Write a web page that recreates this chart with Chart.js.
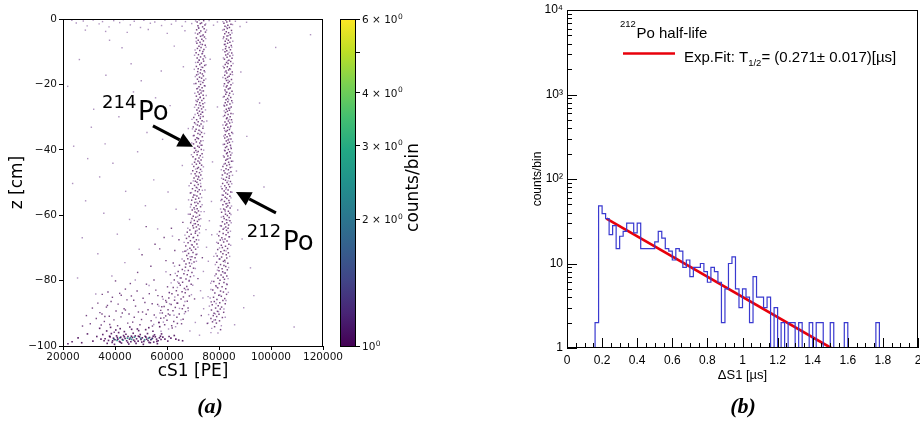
<!DOCTYPE html>
<html><head><meta charset="utf-8">
<script src="https://cdn.jsdelivr.net/npm/chart.js@4/dist/chart.umd.min.js"></script>
<style>
html,body{margin:0;padding:0;background:#fff;width:920px;height:429px;overflow:hidden;}
canvas{position:absolute;top:0;}
#cL{left:0}#cC{left:330px}#cR{left:470px}
.cap{position:absolute;top:393px;font:italic bold 22px "Liberation Serif",serif;width:60px;text-align:center;color:#000}
</style></head><body>
<canvas id="cL" width="345" height="429"></canvas>
<canvas id="cC" width="110" height="429"></canvas>
<canvas id="cR" width="450" height="429"></canvas>
<div class="cap" style="left:180px">(a)</div>
<div class="cap" style="left:713px">(b)</div>
<script>
// ---------------- Panel (a) data: [cS1 in kPE, z in cm] ----------------
const po214Band = [
[72.4,-0.2],[74.1,-0.5],[71.6,-0.9],[73.3,-1.2],[72.8,-1.4],[74.6,-1.8],[71.9,-2.1],[73.7,-2.4],[72.2,-2.8],[74.3,-3.0],[71.4,-3.3],[73.0,-3.7],[74.8,-4.0],[72.5,-4.2],[71.8,-4.6],[73.9,-4.9],[72.9,-5.3],[74.4,-5.5],[71.3,-5.8],[73.4,-6.2],[72.0,-6.5],[74.0,-6.7],[72.7,-7.1],[71.5,-7.4],[73.6,-7.8],[74.7,-8.0],[72.3,-8.3],[73.1,-8.7],[71.7,-9.0],[74.2,-9.3],[72.6,-9.6],[73.8,-9.9],
[71.2,-10.3],[73.5,-10.6],[72.1,-10.9],[74.4,-11.3],[72.9,-11.6],[71.6,-11.9],[73.9,-12.2],[72.4,-12.6],[74.1,-12.9],[71.9,-13.2],[73.2,-13.5],[72.6,-13.9],[74.5,-14.2],[71.3,-14.5],[73.7,-14.8],[72.0,-15.2],[73.0,-15.5],[74.3,-15.8],[71.8,-16.1],[72.8,-16.5],[73.6,-16.8],[71.4,-17.1],[74.0,-17.4],[72.5,-17.8],[73.3,-18.1],[71.7,-18.4],[74.2,-18.7],[72.2,-19.1],[73.8,-19.4],[71.1,-19.7],[72.9,-20.0],[74.4,-20.4],[72.3,-20.7],[73.5,-21.0],[71.5,-21.3],[72.7,-21.7],[74.0,-22.0],[71.9,-22.3],[73.1,-22.6],[72.4,-23.0],[73.9,-23.3],[71.3,-23.6],[72.8,-23.9],[74.1,-24.3],[72.0,-24.6],[73.4,-24.9],[71.6,-25.2],[72.6,-25.6],[73.8,-25.9],[71.2,-26.2],[72.9,-26.5],[74.0,-26.9],[72.1,-27.2],[73.3,-27.5],[71.5,-27.8],[72.5,-28.2],[73.7,-28.5],[71.8,-28.8],[73.0,-29.1],[72.2,-29.5],[73.9,-29.8],
[70.3,-30.1],[72.8,-30.4],[71.4,-30.8],[73.5,-31.1],[72.0,-31.4],[70.6,-31.7],[73.1,-32.1],[71.7,-32.4],[72.5,-32.7],[70.1,-33.0],[73.8,-33.4],[71.2,-33.7],[72.3,-34.0],[70.8,-34.3],[73.3,-34.7],[71.9,-35.0],[72.7,-35.3],[70.4,-35.6],[73.6,-36.0],[71.5,-36.3],[72.1,-36.6],[70.9,-36.9],[73.0,-37.3],[71.3,-37.6],[72.6,-37.9],[70.2,-38.2],[73.4,-38.6],[71.8,-38.9],[72.4,-39.2],[70.7,-39.5],[73.2,-39.9],[71.1,-40.2],[72.0,-40.5],[70.5,-40.8],[73.5,-41.2],[71.6,-41.5],[72.8,-41.8],[70.0,-42.1],[72.3,-42.5],[71.0,-42.8],[73.1,-43.1],[71.9,-43.4],[70.6,-43.8],[72.6,-44.1],[71.3,-44.4],[73.3,-44.7],[70.3,-45.1],[72.1,-45.4],[71.7,-45.7],[72.9,-46.0],[69.9,-46.4],[71.4,-46.7],[72.5,-47.0],[70.8,-47.3],[73.0,-47.7],[71.2,-48.0],[72.2,-48.3],[70.4,-48.6],[71.8,-49.0],[72.7,-49.3],[70.9,-49.6],[71.5,-49.9],
[69.2,-50.2],[72.0,-50.6],[70.6,-50.9],[73.0,-51.2],[71.3,-51.5],[69.8,-51.9],[72.4,-52.2],[70.9,-52.5],[71.8,-52.8],[69.0,-53.2],[72.8,-53.5],[70.3,-53.8],[71.5,-54.1],[70.0,-54.5],[72.2,-54.8],[71.0,-55.1],[69.5,-55.4],[72.6,-55.8],[70.7,-56.1],[71.9,-56.4],[69.3,-56.7],[71.2,-57.1],[72.9,-57.4],[70.4,-57.7],[71.6,-58.0],[69.7,-58.4],[72.1,-58.7],[70.8,-59.0],[71.4,-59.3],[68.9,-59.7],[72.5,-60.0],[70.1,-60.3],[71.1,-60.6],[69.6,-61.0],[72.3,-61.3],[70.5,-61.6],[71.7,-61.9],[69.1,-62.3],[70.9,-62.6],[72.0,-62.9],[69.9,-63.2],[71.3,-63.6],[70.2,-63.9],[72.4,-64.2],[68.8,-64.5],[71.0,-64.9],
[67.8,-65.2],[70.9,-65.5],[69.3,-65.8],[71.8,-66.2],[68.5,-66.5],[70.2,-66.8],[67.5,-67.1],[71.3,-67.5],[69.0,-67.8],[70.6,-68.1],[68.1,-68.4],[71.5,-68.8],[69.7,-69.1],[67.2,-69.4],[70.3,-69.7],[68.8,-70.1],[71.0,-70.4],[69.4,-70.7],[66.9,-71.0],[70.0,-71.4],[68.3,-71.7],[71.2,-72.0],[67.6,-72.3],[69.6,-72.7],[70.8,-73.0],[68.0,-73.3],[69.1,-73.6],[66.6,-74.0],[70.4,-74.3],[68.6,-74.6],[67.3,-74.9],
[64.8,-75.3],[68.9,-75.6],[67.1,-75.9],[70.2,-76.2],[65.9,-76.6],[68.2,-76.9],[64.3,-77.2],[69.6,-77.5],[66.5,-77.9],[67.8,-78.2],[63.9,-78.5],[69.0,-78.8],[65.4,-79.2],[67.3,-79.5],[62.8,-79.8],[68.5,-80.1],[66.0,-80.5],[64.6,-80.8],[69.3,-81.1],[65.1,-81.4],[67.6,-81.8],[62.4,-82.1],[66.7,-82.4],[68.1,-82.7],[63.6,-83.1],[65.8,-83.4],[67.0,-83.7],[61.9,-84.0],[64.2,-84.4],[68.6,-84.7],[66.3,-85.0],
[60.7,-85.3],[65.4,-85.6],[62.9,-86.0],[67.8,-86.3],[59.8,-86.6],[64.1,-86.9],[61.6,-87.3],[66.5,-87.6],[58.9,-87.9],[63.2,-88.2],[65.9,-88.6],[60.4,-88.9],[62.3,-89.2],[67.1,-89.5],[58.2,-89.9],[64.7,-90.2],[61.1,-90.5],[59.5,-90.8],[63.8,-91.2],[57.6,-91.5],[66.2,-91.8],[60.0,-92.1],[62.6,-92.5],[56.9,-92.8],[64.0,-93.1],[59.1,-93.5],[61.8,-93.8]
];
const po214Outer = [
[71.0,-0.6],[74.9,-1.5],[72.1,-2.6],[75.2,-3.4],[70.9,-4.3],[73.5,-5.1],[74.9,-6.0],[71.2,-6.9],[72.9,-7.7],[75.0,-8.6],[70.8,-9.5],
[73.7,-10.4],[70.6,-11.1],[74.8,-11.8],[72.3,-12.5],[71.0,-13.3],[75.0,-14.0],[73.2,-14.7],[70.5,-15.4],[74.6,-16.2],[72.0,-16.9],[70.9,-17.6],[74.9,-18.3],[73.0,-19.1],[70.4,-19.8],[74.7,-20.5],[71.8,-21.2],[73.4,-22.0],[70.7,-22.7],[75.1,-23.4],[72.7,-24.1],[71.1,-24.9],[74.5,-25.6],[72.3,-26.3],[70.6,-27.0],[74.8,-27.8],[73.5,-28.5],[70.8,-29.2],[72.9,-29.9],
[69.6,-30.7],[74.2,-31.4],[71.0,-32.1],[73.9,-32.8],[69.8,-33.6],[72.8,-34.3],[74.4,-35.0],[70.1,-35.7],[71.9,-36.5],[73.9,-37.2],[69.5,-37.9],[72.9,-38.6],[70.4,-39.4],[74.1,-40.1],[71.5,-40.8],[69.4,-41.5],[73.7,-42.3],[70.9,-43.0],[72.4,-43.7],[69.7,-44.4],[74.0,-45.2],[71.0,-45.9],[73.4,-46.6],[69.3,-47.3],[72.0,-48.1],[73.6,-48.8],[70.1,-49.5],
[72.9,-50.3],[68.5,-51.0],[71.7,-51.7],[73.6,-52.4],[69.4,-53.1],[70.8,-53.9],[73.3,-54.6],[68.3,-55.3],[71.4,-56.0],[73.5,-56.8],[69.0,-57.5],[70.6,-58.2],[73.1,-58.9],[68.2,-59.7],[71.8,-60.4],[73.0,-61.1],[69.3,-61.8],[70.4,-62.6],[72.8,-63.3],[68.0,-64.0],[71.6,-64.7],
[72.5,-65.4],[66.9,-66.1],[70.0,-66.9],[72.2,-67.6],[66.6,-68.3],[69.4,-69.0],[71.9,-69.8],[67.9,-70.5],[66.1,-71.2],[71.6,-71.9],[68.9,-72.7],[65.8,-73.4],[71.3,-74.1],[69.5,-74.8],
[62.9,-75.6],[70.9,-76.3],[66.8,-77.0],[63.2,-77.8],[70.3,-78.5],[65.0,-79.2],[68.6,-79.9],[61.6,-80.7],[69.9,-81.4],[64.0,-82.1],[67.2,-82.8],[60.9,-83.6],[69.4,-84.3],[63.0,-85.0],
[58.5,-85.7],[66.9,-86.4],[61.0,-87.1],[56.9,-87.8],[64.8,-88.5],[68.2,-89.2],[57.3,-89.9],[62.7,-90.6],[55.8,-91.3],[65.4,-92.0],[58.6,-92.7],[54.9,-93.4],[63.3,-94.1],[60.6,-94.8],[57.7,-95.5]
];
const po212Band = [
[82.6,-0.3],[84.1,-0.6],[83.0,-0.9],[81.9,-1.3],[84.6,-1.6],[83.4,-1.9],[82.3,-2.2],[84.0,-2.6],[83.2,-2.9],[82.0,-3.2],[84.8,-3.5],[82.8,-3.9],[83.7,-4.2],[82.2,-4.5],[84.3,-4.8],[83.1,-5.2],[81.8,-5.5],[84.5,-5.8],[82.9,-6.1],[83.6,-6.5],[82.4,-6.8],[84.2,-7.1],[83.3,-7.4],[82.1,-7.8],[84.7,-8.1],[82.7,-8.4],[83.9,-8.7],[82.5,-9.1],[84.4,-9.4],[83.0,-9.7],
[82.3,-10.0],[84.9,-10.4],[83.4,-10.7],[82.6,-11.0],[84.2,-11.3],[83.1,-11.7],[85.0,-12.0],[82.1,-12.3],[83.8,-12.6],[84.5,-13.0],[82.9,-13.3],[83.5,-13.6],[82.4,-13.9],[84.7,-14.3],[83.2,-14.6],[82.0,-14.9],[84.1,-15.2],[83.7,-15.6],[82.7,-15.9],[85.1,-16.2],[83.0,-16.5],[84.4,-16.9],[82.2,-17.2],[83.9,-17.5],[83.3,-17.8],[82.5,-18.2],[84.8,-18.5],[82.9,-18.8],[84.0,-19.1],[83.5,-19.5],[82.1,-19.8],[84.6,-20.1],[83.1,-20.4],[82.8,-20.8],[84.3,-21.1],[83.6,-21.4],[82.3,-21.7],[85.0,-22.1],[83.0,-22.4],[84.1,-22.7],[82.6,-23.0],[83.8,-23.4],[82.0,-23.7],[84.5,-24.0],[83.3,-24.3],[82.7,-24.7],[84.9,-25.0],[83.4,-25.3],[82.4,-25.6],[84.2,-26.0],[83.0,-26.3],[82.1,-26.6],[84.7,-26.9],[83.7,-27.3],[82.8,-27.6],[84.0,-27.9],[83.2,-28.2],[82.5,-28.6],[84.6,-28.9],[83.5,-29.2],[82.2,-29.5],[84.3,-29.9],[83.1,-30.2],[82.9,-30.5],[84.8,-30.8],[83.6,-31.2],[82.3,-31.5],[84.1,-31.8],[83.0,-32.1],[82.6,-32.5],[84.5,-32.8],[83.4,-33.1],[82.0,-33.4],[84.0,-33.8],[83.2,-34.1],[82.7,-34.4],[84.9,-34.7],[83.8,-35.1],[82.4,-35.4],[84.2,-35.7],[83.1,-36.0],[82.2,-36.4],[84.6,-36.7],[83.5,-37.0],[82.8,-37.3],[84.0,-37.7],[83.3,-38.0],[82.1,-38.3],[84.4,-38.6],[83.0,-39.0],[82.5,-39.3],[84.7,-39.6],[83.6,-39.9],[82.3,-40.3],[84.1,-40.6],[83.2,-40.9],[82.9,-41.2],[84.5,-41.6],[83.4,-41.9],[82.0,-42.2],[84.3,-42.5],[83.1,-42.9],[82.6,-43.2],[84.8,-43.5],[83.7,-43.8],[82.4,-44.2],[84.0,-44.5],[83.0,-44.8],
[81.5,-45.1],[84.3,-45.4],[82.7,-45.8],[83.6,-46.1],[81.9,-46.4],[84.6,-46.7],[82.3,-47.1],[83.2,-47.4],[81.3,-47.7],[84.0,-48.0],[82.9,-48.4],[83.9,-48.7],[81.7,-49.0],[82.5,-49.3],[84.4,-49.7],[83.1,-50.0],[81.4,-50.3],[83.7,-50.6],[82.2,-51.0],[84.1,-51.3],[82.8,-51.6],[81.2,-51.9],[83.5,-52.3],[82.0,-52.6],[84.5,-52.9],[82.6,-53.2],[83.3,-53.6],[81.6,-53.9],[84.2,-54.2],[82.4,-54.5],[83.0,-54.9],[81.1,-55.2],[83.8,-55.5],[82.1,-55.8],[84.0,-56.2],[82.7,-56.5],[81.5,-56.8],[83.4,-57.1],[82.9,-57.5],[84.3,-57.8],[81.8,-58.1],[82.3,-58.4],[83.6,-58.8],[81.0,-59.1],[84.1,-59.4],[82.5,-59.7],[83.2,-60.1],[81.7,-60.4],[83.9,-60.7],[82.0,-61.0],[82.8,-61.4],[84.2,-61.7],[81.3,-62.0],[83.0,-62.3],[82.2,-62.7],[83.7,-63.0],[80.9,-63.3],[82.6,-63.6],[83.5,-64.0],[81.6,-64.3],[82.9,-64.6],
[80.2,-65.0],[83.5,-65.3],[81.6,-65.6],[82.7,-66.0],[79.9,-66.3],[84.0,-66.6],[81.1,-66.9],[82.3,-67.3],[80.5,-67.6],[83.1,-67.9],[81.8,-68.2],[79.7,-68.6],[83.8,-68.9],[80.9,-69.2],[82.5,-69.5],[81.3,-69.9],[83.3,-70.2],[79.5,-70.5],[82.0,-70.8],[80.7,-71.2],[83.6,-71.5],[81.5,-71.8],[82.8,-72.1],[79.3,-72.5],[81.0,-72.8],[83.0,-73.1],[80.3,-73.4],[82.2,-73.8],[81.7,-74.1],[79.1,-74.4],[83.4,-74.7],[80.6,-75.1],[81.9,-75.4],[82.6,-75.7],[79.8,-76.0],[81.2,-76.4],[83.2,-76.7],[80.0,-77.0],[81.4,-77.3],[82.4,-77.7],[78.9,-78.0],[80.8,-78.3],[83.0,-78.6],[81.6,-79.0],[79.6,-79.3],[82.1,-79.6],[80.4,-79.9],
[78.0,-80.3],[81.9,-80.6],[80.1,-80.9],[83.1,-81.2],[78.8,-81.6],[81.2,-81.9],[79.5,-82.2],[82.6,-82.5],[77.6,-82.9],[80.6,-83.2],[81.7,-83.5],[78.4,-83.8],[82.9,-84.2],[79.9,-84.5],[80.9,-84.8],[77.9,-85.1],[82.2,-85.5],[79.2,-85.8],[81.5,-86.1],[78.2,-86.4],[80.3,-86.8],[82.4,-87.1],[77.4,-87.4],[79.7,-87.7],[81.0,-88.1],[78.7,-88.4],[80.5,-88.7],[77.1,-89.0],[79.4,-89.4],[81.8,-89.7],[78.1,-90.0],[80.0,-90.3],[77.8,-90.7],[79.1,-91.0],[81.3,-91.3],[76.9,-91.6],[78.6,-92.0],[80.2,-92.3],[77.5,-92.6],[79.0,-93.0],[78.3,-94.1],[80.6,-95.0]
];
const po212Outer = [
[81.5,-0.8],[85.2,-1.7],[82.9,-2.5],[81.4,-3.4],[85.0,-4.3],[83.6,-5.1],[81.6,-6.0],[85.3,-6.8],[82.4,-7.7],[84.9,-8.6],[81.5,-9.4],[83.9,-10.2],[85.3,-11.1],[81.7,-11.9],[83.3,-12.8],[85.4,-13.6],[81.6,-14.5],[84.4,-15.4],[82.3,-16.2],[85.2,-17.0],[81.5,-17.9],[83.5,-18.7],[85.3,-19.6],[81.8,-20.5],[84.0,-21.3],[82.5,-22.2],[85.5,-23.0],[81.6,-23.9],[83.7,-24.7],[85.2,-25.6],[81.9,-26.4],[84.2,-27.3],[82.0,-28.1],[85.4,-29.0],[81.7,-29.8],[83.9,-30.7],[85.1,-31.6],[81.5,-32.4],[84.3,-33.3],[82.2,-34.1],[85.3,-35.0],[81.8,-35.8],[83.8,-36.7],[85.2,-37.5],[81.6,-38.4],[84.5,-39.2],[82.1,-40.1],[85.0,-41.0],[81.7,-41.8],[83.6,-42.7],[85.3,-43.5],[81.9,-44.4],
[84.9,-45.3],[80.9,-46.1],[83.9,-47.0],[85.2,-47.8],[81.0,-48.7],[83.5,-49.5],[84.9,-50.4],[80.8,-51.2],[82.6,-52.1],[85.0,-53.0],[81.2,-53.8],[84.6,-54.7],[80.7,-55.5],[83.1,-56.4],[84.8,-57.2],[80.6,-58.1],[82.4,-58.9],[84.6,-59.8],[80.9,-60.6],[83.4,-61.5],[84.7,-62.3],[80.5,-63.2],[82.0,-64.0],[84.4,-64.9],
[79.3,-65.8],[83.8,-66.6],[81.4,-67.5],[79.1,-68.3],[84.5,-69.2],[80.2,-70.0],[82.7,-70.9],[78.8,-71.7],[84.1,-72.6],[80.0,-73.4],[82.4,-74.3],[78.6,-75.1],[83.7,-76.0],[79.4,-76.8],[82.0,-77.7],[78.4,-78.5],[83.5,-79.4],
[77.2,-80.2],[82.9,-81.0],[79.0,-81.9],[76.9,-82.7],[83.6,-83.6],[80.3,-84.4],[76.6,-85.3],[82.7,-86.1],[78.9,-87.0],[76.3,-87.8],[81.9,-88.7],[79.8,-89.5],[76.0,-90.4],[82.4,-91.2],[78.0,-92.1],[75.8,-93.0],[80.9,-93.8],[77.2,-94.6],[79.6,-96.0]
];
const bottomCluster = [
[36.2,-97.8],[37.5,-98.3],[38.1,-97.2],[38.9,-98.9],[39.4,-97.6],[40.0,-98.1],[40.6,-96.9],[41.1,-97.9],[41.7,-98.6],[42.2,-97.3],[42.8,-98.0],[43.3,-96.8],[43.9,-97.7],[44.5,-98.4],[45.0,-97.1],[45.6,-97.9],[46.1,-98.7],[46.7,-97.4],[47.2,-98.2],[47.8,-96.9],[48.3,-97.8],[48.9,-98.5],[49.4,-97.2],[50.0,-98.0],[50.5,-97.5],[51.1,-98.6],[51.6,-97.0],[52.2,-97.9],[52.7,-98.3],[53.3,-97.4],[53.8,-98.1],[54.4,-97.6],[54.9,-98.8],[55.5,-97.2],[56.0,-97.9],[56.6,-98.4],[57.1,-97.5],[57.7,-98.0],[58.4,-97.3],[59.2,-97.9],[60.3,-98.5],[61.5,-97.6],
[35.3,-96.5],[37.0,-99.2],[39.8,-99.5],[42.5,-99.1],[45.3,-99.4],[48.1,-99.2],[50.9,-99.5],[53.6,-99.0],[56.3,-99.3],[38.6,-96.2],[41.4,-95.9],[44.2,-96.4],[47.0,-96.1],[49.7,-96.5],[52.5,-96.2],[55.2,-96.6],[57.9,-96.3],[36.8,-95.4],[40.3,-95.1],[43.6,-95.6],[46.4,-94.9],[49.1,-95.3],[51.8,-95.0],[54.6,-95.5],[34.1,-94.6],[38.3,-94.3],[42.0,-94.7],[45.7,-94.2],[48.6,-94.8],[53.0,-94.4],[57.2,-94.1],[62.8,-96.8],[64.5,-98.2],[33.0,-97.1],[31.5,-98.5],[29.4,-96.3],[27.2,-99.0],[25.8,-97.5],[23.5,-98.7],[21.9,-99.3],
[37.9,-97.0],[39.1,-98.4],[40.9,-97.4],[42.0,-98.8],[43.6,-97.2],[44.9,-98.9],[46.3,-97.0],[47.6,-98.6],[49.0,-97.0],[50.3,-98.8],[51.9,-97.3],[53.1,-98.9],[54.7,-97.0],[56.1,-98.6],[57.5,-97.0],[35.8,-98.4],[34.6,-97.9],[60.8,-97.1],[63.4,-97.9],[66.0,-98.4]
];
const count2Events = [
[39.6,-97.9],[41.9,-97.5],[43.1,-98.2],[44.8,-97.6],[46.4,-98.0],[47.5,-97.3],[49.9,-97.7],[51.4,-98.1],[52.9,-97.6],[54.1,-97.9],[45.9,-97.5],[40.8,-98.3]
];
const bottomCloud = [
[30.5,-93.2],[32.8,-91.6],[34.2,-89.8],[35.9,-92.5],[36.7,-88.1],[37.8,-90.9],[38.5,-86.4],[39.6,-92.0],[40.4,-89.3],[41.2,-87.2],[42.3,-91.1],[43.5,-88.6],[44.6,-85.9],[45.4,-90.2],[46.8,-92.7],[47.9,-87.8],[49.0,-89.6],[50.2,-91.9],[51.5,-86.7],[52.7,-88.9],[53.9,-92.3],[55.1,-90.5],[56.4,-87.3],[57.6,-89.1],[58.8,-91.4],[33.4,-86.9],[35.1,-84.2],[37.3,-83.5],[39.0,-85.1],[41.8,-83.9],[44.0,-82.6],[46.3,-84.7],[48.5,-83.2],[50.8,-85.4],[53.2,-84.0],[55.7,-82.9],[31.3,-88.4],[29.0,-90.7],[27.5,-93.9],[34.7,-93.6],[38.0,-93.4],[41.0,-93.8],[44.9,-93.0],[47.4,-91.2],[49.6,-93.5],[36.1,-91.0],[42.8,-89.9],[52.0,-90.3],[54.4,-93.9],[59.5,-86.1],[60.9,-83.7],[58.2,-84.9],[56.9,-92.8],
[50.4,-72.1],[53.8,-75.6],[57.2,-70.3],[55.0,-79.8],[59.6,-73.9],[61.3,-78.2],[48.7,-77.5],[52.1,-81.1],[56.5,-84.6],[60.2,-81.9],[62.4,-74.6],[58.0,-88.0],[54.3,-87.1],[50.6,-89.6],[47.2,-86.0],[45.9,-80.9],[63.0,-70.8],[64.6,-67.5],[61.7,-64.0],[58.9,-66.8],[55.4,-68.9],[52.0,-63.5],[66.1,-62.2],[63.8,-86.9],[60.5,-90.2],[44.0,-89.0],[42.4,-84.5],[40.2,-80.1],[37.1,-87.6],[35.0,-90.2],[39.7,-95.8],[62.0,-94.5],[65.6,-93.2],[68.1,-88.4],[70.6,-85.6],[73.2,-90.7],[75.5,-93.1],[77.0,-86.5],[71.9,-79.4],[73.6,-73.0]
];
const topEdgeEvents = [
[23.4,-0.4],[25.1,-1.2],[27.8,-0.6],[29.3,-2.1],[31.6,-0.3],[33.9,-1.5],[35.2,-0.8],[37.7,-2.4],[39.5,-0.5],[41.8,-1.1],[43.2,-0.2],[45.9,-1.8],[47.4,-0.7],[49.8,-2.6],[51.1,-0.4],[53.6,-1.3],[55.3,-0.9],[57.9,-2.0],[59.2,-0.3],[61.7,-1.6],[63.4,-0.6],[65.8,-2.2],[67.1,-0.8],[69.5,-1.4],[76.2,-0.5],[77.9,-1.9],[79.4,-0.9],[86.3,-0.7],[88.1,-2.3],[90.6,-1.0],[28.6,-3.4],[36.4,-3.8],[44.7,-4.1],[52.8,-3.2],[60.1,-4.4],[66.9,-3.6]
];
const sparseEvents = [
[26.3,-12.4],[31.8,-27.6],[24.1,-38.9],[36.5,-17.2],[42.7,-8.8],[47.1,-22.3],[39.2,-44.1],[28.7,-55.6],[52.3,-34.7],[57.8,-15.9],[45.6,-61.3],[33.4,-71.8],[54.9,-49.2],[61.2,-26.5],[49.3,-70.4],[38.8,-78.6],[63.5,-58.2],[27.4,-66.9],[59.6,-77.3],[65.9,-44.8],[44.1,-52.7],[30.9,-33.1],[35.7,-59.4],[56.4,-64.2],[62.8,-8.3],[41.5,-29.9],[48.7,-40.6],[53.1,-81.5],[67.4,-70.9],[25.6,-79.2],[21.8,-20.6],[34.1,-48.3],[46.2,-13.7],[58.3,-36.8],[64.1,-80.4],[37.9,-6.5],[43.8,-74.5],[51.7,-57.1],[29.5,-42.7],[55.6,-24.1],[66.3,-14.6],[40.9,-65.8],[23.7,-50.3],[60.4,-52.9],[32.6,-84.1],[50.1,-18.9],[68.2,-33.5],[47.8,-79.8],[36.2,-38.2],[62.1,-66.4],
[75.3,-31.2],[77.1,-55.8],[76.6,-12.3],[78.0,-72.6],[75.8,-84.9],[77.5,-43.7],[88.4,-16.2],[90.7,-35.9],[87.2,-58.4],[92.1,-76.1],[95.6,-25.7],[89.5,-88.3],[97.3,-51.4],[101.8,-8.7],[108.9,-94.2],[115.2,-4.8],[86.7,-46.5],[88.9,-67.3],[93.4,-84.6],[79.4,-26.9],[78.6,-90.2],[70.9,-92.8],[74.1,-88.6],[68.8,-95.4],[72.5,-96.7],[66.7,-90.1],[76.9,-95.9],[86.0,-93.5],[75.0,-64.4],
[74.6,-52.3],[76.3,-61.7],[75.2,-69.8],[74.0,-77.2],[76.8,-80.8],[73.8,-85.3],[75.9,-74.1],[77.2,-66.0],[74.3,-58.9],[72.9,-83.1]
];
// axis ranges / ticks (a)
const cs1Range = [20000, 120000];
const zRange = [-100, 0];
const colorTickValues = [1, 2, 3, 4, 5, 6];
const colorTickMant = ['', '2 \u00d7 ', '3 \u00d7 ', '4 \u00d7 ', null, '6 \u00d7 '];
const viridis = ['#440154','#482475','#414487','#355f8d','#2a788e','#21918c','#22a884','#44bf70','#7ad151','#bddf26','#fde725'];
// annotations (a): [tail cS1, tail z, head cS1, head z]
const arrows = [[54600, -32.7, 70000, -39.1], [101900, -59.3, 86500, -52.9]];
// isotope labels: [mass, x, z, element, x, z]
const isoLabels = [['214', 35000, -27.2, 'Po', 48800, -30.9], ['212', 90700, -66.7, 'Po', 104600, -70.6]];

// ---------------- Panel (b) data ----------------
const binLow = [0.16,0.18,0.20,0.22,0.24,0.26,0.28,0.30,0.32,0.34,0.36,0.38,0.40,0.42,0.44,0.46,0.48,0.50,0.52,0.54,0.56,0.58,0.60,0.62,0.64,0.66,0.68,0.70,0.72,0.74,0.76,0.78,0.80,0.82,0.84,0.86,0.88,0.90,0.92,0.94,0.96,0.98,1.00,1.02,1.04,1.06,1.08,1.10,1.12,1.14,1.16,1.18,1.20,1.22,1.24,1.26,1.28,1.30,1.32,1.34,1.36,1.38,1.40,1.42,1.44,1.46,1.48,1.50,1.52,1.54,1.56,1.58,1.60,1.62,1.64,1.66,1.68,1.70,1.72,1.74,1.76,1.78];
const counts = [2,48,39,34,22,28,15,21,24,30,30,23,30,15,15,15,15,18,24,20,15,14,11,15,14,9,11,7,9,9,10,8,6,9,8,6,2,5,10,12,5,3,5,4,2,7,4,4,3,4,1,3,1,2,1,2,2,1,2,1,1,2,1,2,2,1,1,2,1,1,1,2,1,1,1,1,1,1,1,1,2,1];
const histStart = 0.0, histEnd = 1.80;
const fitT = [0.225, 1.505];
const fitN = [34, 1];
const xTicksB = [0, 2, 0.2];
const yRangeB = [1, 10000];
const decadeLabels = {1:'1', 10:'10', 100:'10\u00b2', 1000:'10\u00b3', 10000:'10\u2074'};

// ---------------- helpers ----------------
const toPts = arr => arr.map(p => ({x: p[0] * 1000, y: p[1]}));
const minus = v => v < 0 ? '\u2212' + Math.abs(v) : String(v);
const noPad = s => { s.paddingLeft = 0; s.paddingRight = 0; s.paddingTop = 0; s.paddingBottom = 0; };

function drawArrow(ctx, x0, y0, x1, y1) {
  const a = Math.atan2(y1 - y0, x1 - x0), hl = 15, hw = 7.5;
  const bx = x1 - Math.cos(a) * hl, by = y1 - Math.sin(a) * hl;
  ctx.beginPath(); ctx.moveTo(x0, y0); ctx.lineTo(bx, by);
  ctx.lineWidth = 3; ctx.strokeStyle = '#000'; ctx.stroke();
  ctx.beginPath(); ctx.moveTo(x1, y1);
  ctx.lineTo(bx - Math.sin(a) * hw, by + Math.cos(a) * hw);
  ctx.lineTo(bx + Math.sin(a) * hw, by - Math.cos(a) * hw);
  ctx.closePath(); ctx.fillStyle = '#000'; ctx.fill();
}

const leftDecor = {
  id: 'leftDecor',
  afterDraw(chart) {
    const {ctx, chartArea: a, scales: {x, y}} = chart;
    ctx.save();
    ctx.strokeStyle = '#000'; ctx.lineWidth = 1;
    ctx.strokeRect(a.left + 0.5, a.top + 0.5, a.right - a.left - 1, a.bottom - a.top);
    arrows.forEach(r => drawArrow(ctx, x.getPixelForValue(r[0]), y.getPixelForValue(r[1]), x.getPixelForValue(r[2]), y.getPixelForValue(r[3])));
    ctx.fillStyle = '#000'; ctx.textBaseline = 'alphabetic'; ctx.textAlign = 'left';
    isoLabels.forEach(l => {
      ctx.font = '18px "DejaVu Sans"';
      ctx.fillText(l[0], x.getPixelForValue(l[1]), y.getPixelForValue(l[2]));
      ctx.font = '26px "DejaVu Sans"';
      ctx.fillText(l[3], x.getPixelForValue(l[4]), y.getPixelForValue(l[5]));
    });
    ctx.restore();
  }
};

const cbarDecor = {
  id: 'cbarDecor',
  beforeDraw(chart) {
    const {ctx, chartArea: a} = chart;
    ctx.save();
    const g = ctx.createLinearGradient(0, a.bottom, 0, a.top);
    viridis.forEach((c, i) => g.addColorStop(i / (viridis.length - 1), c));
    ctx.fillStyle = g;
    ctx.fillRect(a.left, a.top, a.right - a.left, a.bottom - a.top);
    ctx.restore();
  },
  afterDraw(chart) {
    const {ctx, chartArea: a, scales: {y}} = chart;
    ctx.save();
    ctx.strokeStyle = '#000'; ctx.lineWidth = 1;
    ctx.strokeRect(a.left + 0.5, a.top + 0.5, a.right - a.left - 1, a.bottom - a.top);
    ctx.fillStyle = '#111'; ctx.textAlign = 'left'; ctx.textBaseline = 'alphabetic';
    colorTickValues.forEach((v, i) => {
      const m = colorTickMant[i];
      if (m === null) return;
      const py = y.getPixelForValue(v) + 4;
      let tx = a.right + 6;
      ctx.font = '10.5px "DejaVu Sans"';
      ctx.fillText(m + '10', tx, py); tx += ctx.measureText(m + '10').width;
      ctx.font = '7.5px "DejaVu Sans"';
      ctx.fillText('0', tx + 0.5, py - 4.5);
    });
    ctx.translate(84, (a.top + a.bottom) / 2 + 5);
    ctx.rotate(-Math.PI / 2);
    ctx.font = '17px "DejaVu Sans"'; ctx.fillStyle = '#000';
    ctx.textAlign = 'center'; ctx.textBaseline = 'middle';
    ctx.fillText('counts/bin', 0, 0);
    ctx.restore();
  }
};

const rightDecor = {
  id: 'rightDecor',
  afterDraw(chart) {
    const {ctx, chartArea: a, scales: {x, y}} = chart;
    ctx.save();
    ctx.strokeStyle = '#000'; ctx.lineWidth = 1;
    ctx.strokeRect(a.left + 0.5, a.top + 0.5, a.right - a.left - 1, a.bottom - a.top - 1);
    ctx.beginPath();
    for (let i = 0; i <= 40; i++) {
      const px = Math.round(x.getPixelForValue(i * 0.05)) + 0.5;
      const len = i % 4 === 0 ? 10 : 5;
      ctx.moveTo(px, a.bottom); ctx.lineTo(px, a.bottom - len);
    }
    for (let d = 1; d <= 1000; d *= 10) {
      for (let m = 1; m <= 10; m++) {
        const py = Math.round(y.getPixelForValue(m * d)) + 0.5;
        const len = (m === 1 || m === 10) ? 10 : 5;
        ctx.moveTo(a.left, py); ctx.lineTo(a.left + len, py);
      }
    }
    ctx.stroke();
    const L = a.left;
    ctx.fillStyle = '#000'; ctx.textAlign = 'left'; ctx.textBaseline = 'alphabetic';
    ctx.font = '9.5px "Liberation Sans"';
    ctx.fillText('212', L + 53, 27);
    ctx.font = '15px "Liberation Sans"';
    ctx.fillText('Po half-life', L + 69.5, 37.5);
    ctx.strokeStyle = '#e8000b'; ctx.lineWidth = 2.5;
    ctx.beginPath(); ctx.moveTo(L + 56, 53.5); ctx.lineTo(L + 108, 53.5); ctx.stroke();
    let tx = L + 117;
    ctx.fillText('Exp.Fit: T', tx, 62); tx += ctx.measureText('Exp.Fit: T').width;
    ctx.font = '9.5px "Liberation Sans"';
    ctx.fillText('1/2', tx, 66); tx += ctx.measureText('1/2').width;
    ctx.font = '15px "Liberation Sans"';
    ctx.fillText('= (0.271\u00b1 0.017)[\u00b5s]', tx, 62);
    ctx.restore();
  }
};

Chart.defaults.animation = false;
Chart.defaults.responsive = false;
Chart.defaults.plugins.legend.display = false;
Chart.defaults.plugins.tooltip.enabled = false;
Chart.defaults.events = [];

// ---------------- Panel (a) chart ----------------
const tickFontA = {family: 'DejaVu Sans', size: 10.5};
const purple = 'rgba(68,1,84,0.72)';
const pale = 'rgba(95,40,130,0.5)';
const ds = (arr, color, r) => ({data: toPts(arr), backgroundColor: color, borderWidth: 0, pointStyle: 'rect', pointRadius: r});
new Chart(document.getElementById('cL'), {
  type: 'scatter',
  data: {datasets: [
    ds(po214Outer, pale, 1.0), ds(po212Outer, pale, 1.0),
    ds(po214Band, purple, 1.05), ds(po212Band, purple, 1.05),
    ds(bottomCluster, 'rgba(68,1,84,0.85)', 1.15),
    ds(bottomCloud, purple, 1.0),
    ds(topEdgeEvents, pale, 1.0),
    ds(sparseEvents, pale, 1.0),
    ds(count2Events, 'rgba(33,145,140,0.9)', 1.2)
  ]},
  options: {
    layout: {padding: {left: 0, top: 19, right: 22, bottom: 47}},
    scales: {
      x: {type: 'linear', min: cs1Range[0], max: cs1Range[1],
        afterFit: s => { s.height = 36; noPad(s); },
        grid: {drawOnChartArea: false, drawTicks: true, tickLength: 4, color: '#000'},
        border: {display: true, color: '#000'},
        ticks: {stepSize: 20000, color: '#111', font: tickFontA, padding: 1, maxRotation: 0, autoSkip: false, callback: v => String(v)},
        title: {display: true, text: 'cS1 [PE]', color: '#000', font: {family: 'DejaVu Sans', size: 17}, padding: 0}},
      y: {type: 'linear', min: zRange[0], max: zRange[1],
        afterFit: s => { s.width = 63; noPad(s); },
        grid: {drawOnChartArea: false, drawTicks: true, tickLength: 4, color: '#000'},
        border: {display: true, color: '#000'},
        ticks: {stepSize: 20, color: '#111', font: tickFontA, padding: 2, autoSkip: false, callback: v => minus(v)},
        title: {display: true, text: 'z [cm]', color: '#000', font: {family: 'DejaVu Sans', size: 17}, padding: {top: 7, bottom: 0}}}
    }
  },
  plugins: [leftDecor]
});

// ---------------- colour bar ----------------
new Chart(document.getElementById('cC'), {
  type: 'scatter',
  data: {datasets: [{data: []}]},
  options: {
    layout: {padding: {left: 10, top: 19, right: 44, bottom: 83}},
    scales: {
      x: {display: false, min: 0, max: 1},
      y: {type: 'logarithmic', position: 'right', min: 1, max: 6,
        afterFit: s => { s.width = 40; noPad(s); },
        afterBuildTicks: s => { s.ticks = colorTickValues.map(v => ({value: v})); },
        grid: {drawOnChartArea: false, drawTicks: true, tickLength: 4, color: '#000'},
        border: {display: false},
        ticks: {display: false}}
    }
  },
  plugins: [cbarDecor]
});

// ---------------- Panel (b) chart ----------------
const histPts = [{x: histStart, y: 1}, {x: binLow[0], y: 1}]
  .concat(binLow.map((b, i) => ({x: b, y: counts[i]})))
  .concat([{x: histEnd, y: 1}]);
const tickFontB = {family: 'Liberation Sans', size: 12};
new Chart(document.getElementById('cR'), {
  type: 'line',
  data: {datasets: [
    {data: histPts, borderColor: '#3a3ad0', borderWidth: 1.2, pointRadius: 0, stepped: 'before', fill: false},
    {data: fitT.map((t, i) => ({x: t, y: fitN[i]})), borderColor: '#e8000b', borderWidth: 2.6, pointRadius: 0, fill: false}
  ]},
  options: {
    layout: {padding: {left: 55, top: 10, right: 2, bottom: 46}},
    scales: {
      x: {type: 'linear', min: xTicksB[0], max: xTicksB[1],
        afterFit: s => { s.height = 35; noPad(s); },
        grid: {display: false, drawTicks: false},
        border: {display: false},
        ticks: {stepSize: xTicksB[2], color: '#000', font: tickFontB, padding: 5, maxRotation: 0, autoSkip: false,
          callback: v => String(Number(v.toFixed(1)))},
        title: {display: true, text: '\u0394S1 [\u00b5s]', color: '#000', font: {family: 'Liberation Sans', size: 13}, padding: 0}},
      y: {type: 'logarithmic', min: yRangeB[0], max: yRangeB[1],
        afterFit: s => { s.width = 42; noPad(s); },
        grid: {display: false, drawTicks: false},
        border: {display: false},
        ticks: {color: '#000', font: tickFontB, padding: 4, autoSkip: false,
          callback: v => decadeLabels[v] ?? ''},
        title: {display: true, text: 'counts/bin', color: '#000', font: {family: 'Liberation Sans', size: 12}, padding: {top: 5, bottom: 0}}}
    }
  },
  plugins: [rightDecor]
});
</script>
</body></html>
